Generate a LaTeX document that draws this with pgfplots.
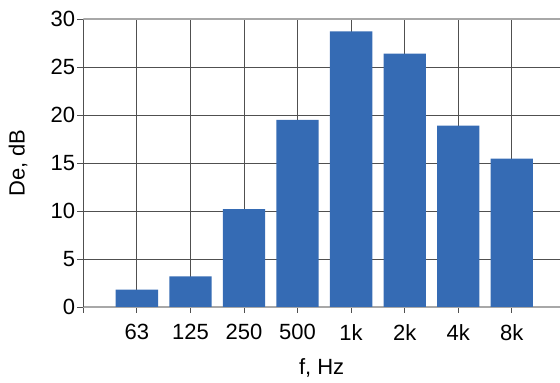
\documentclass[border=0pt]{standalone}
\usepackage{fontspec}
\setmainfont{Liberation Sans}
\usepackage{pgfplots}
\pgfplotsset{compat=1.18}
\definecolor{barblue}{HTML}{356BB4}
\definecolor{gridc}{HTML}{505050}
\definecolor{axc}{HTML}{A8A8A8}
\begin{document}
\fontsize{22bp}{26bp}\selectfont
\begin{tikzpicture}
\begin{axis}[
  at={(83.3bp,76bp)}, anchor=south west,
  scale only axis,
  width=476.7bp, height=288bp,
  xmin=0, xmax=8.9,
  ymin=0, ymax=30,
  ytick={0,5,...,30},
  xtick={0,1,...,8},
  xticklabels={,63,125,250,500,1k,2k,4k,8k},
  axis x line*=bottom, axis y line*=left,
  x axis line style={axc, line width=1.2bp, -},
  y axis line style={gridc, line width=1bp, -},
  tick align=outside,
  major tick length=6bp,
  tick style={gridc, line width=0.8bp},
  grid=major,
  major grid style={gridc, line width=0.8bp},
  /pgf/number format/assume math mode=true,
  tick label style={font=\fontsize{22bp}{26bp}\selectfont},
  yticklabel style={inner sep=2bp},
  xticklabel style={inner sep=2bp, yshift=-9bp},
  label style={font=\fontsize{22bp}{26bp}\selectfont},
  xlabel={f, Hz},
  ylabel={De, dB},
  xlabel style={at={(axis description cs:0.5,-0.212)}, anchor=center},
  ylabel style={at={(axis description cs:-0.137,0.5)}, anchor=center, rotate=0},
  clip=true,
]
\addplot[ybar, bar width=0.79, fill=barblue, draw=none] coordinates {
  (1,1.8) (2,3.2) (3,10.2) (4,19.5) (5,28.7) (6,26.4) (7,18.9) (8,15.45)
};
\draw[axc, line width=1.2bp] (rel axis cs:0,1) -- (rel axis cs:1,1);
\end{axis}
\pgfresetboundingbox
\useasboundingbox (0,0) rectangle (560bp,383bp);
\end{tikzpicture}
\end{document}
